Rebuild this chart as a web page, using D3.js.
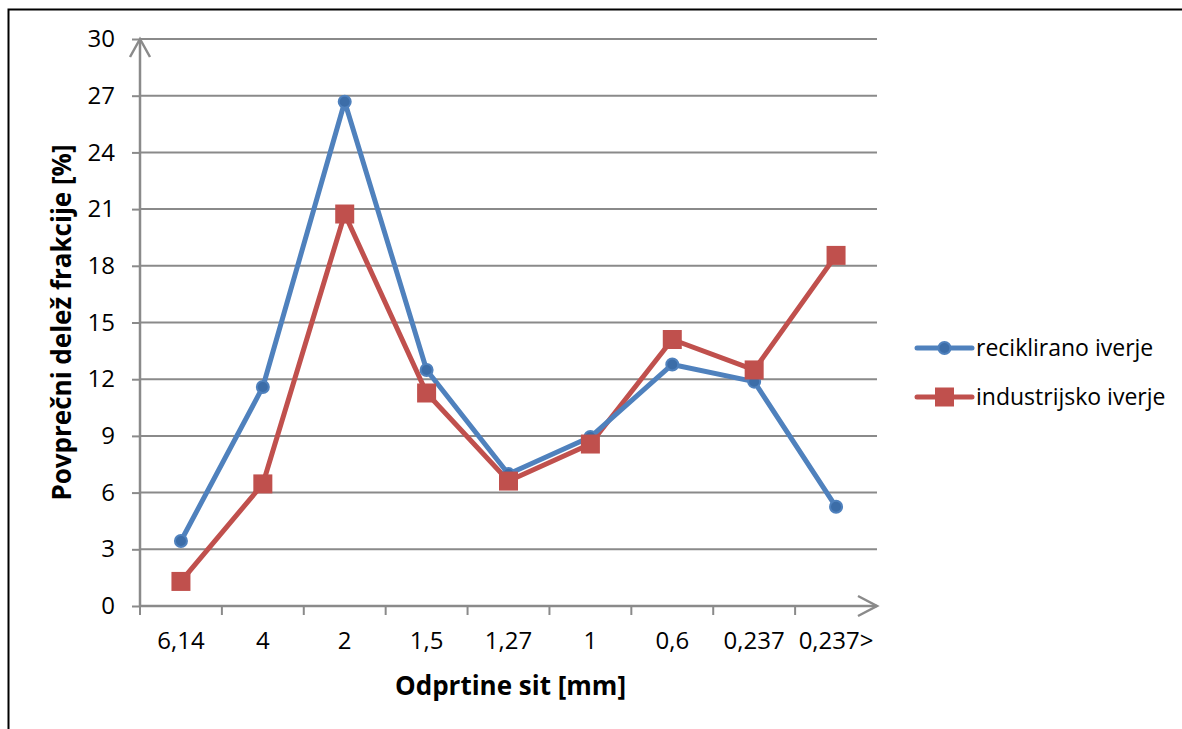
<!DOCTYPE html>
<html>
<head>
<meta charset="utf-8">
<script src="https://cdn.jsdelivr.net/npm/d3@7"></script>
<style>
  html, body { margin: 0; padding: 0; background: #fff; }
  svg { display: block; }
  text { font-family: "Open Sans", "Liberation Sans", sans-serif; fill: #000; }
</style>
</head>
<body>
<svg id="chart" width="1182" height="729"></svg>
<script>
// Sieve openings (mm) and average fraction shares (%)
const categories = ["6,14", "4", "2", "1,5", "1,27", "1", "0,6", "0,237", "0,237>"];
const reciklirano = [3.44, 11.59, 26.68, 12.49, 6.98, 8.94, 12.78, 11.87, 5.25];
const industrijsko = [1.30, 6.46, 20.74, 11.27, 6.61, 8.57, 14.10, 12.49, 18.55];
const yTicks = [0, 3, 6, 9, 12, 15, 18, 21, 24, 27, 30];
const seriesNames = ["reciklirano iverje", "industrijsko iverje"];

const svg = d3.select("#chart");
const grid = "#8a8a8a";
const blue = "#4F81BD", blueDark = "#3C6DA8";
const red = "#C0504D";

// outer frame
svg.append("rect").attr("x", 8.5).attr("y", 9.5).attr("width", 1300).attr("height", 800)
  .attr("fill", "none").attr("stroke", "#000").attr("stroke-width", 2);

const plot = { left: 140, right: 877, top: 39, bottom: 606 };

const x = d3.scaleBand().domain(categories).range([plot.left, plot.right]).padding(0);
const y = d3.scaleLinear().domain([0, 30]).range([plot.bottom, plot.top]);

// horizontal gridlines
svg.append("g").selectAll("line").data(yTicks.filter(d => d > 0)).join("line")
  .attr("x1", plot.left).attr("x2", plot.right)
  .attr("y1", d => y(d)).attr("y2", d => y(d))
  .attr("stroke", grid).attr("stroke-width", 2);

// y axis
const yAxis = svg.append("g").attr("transform", `translate(${plot.left},0)`)
  .call(d3.axisLeft(y).tickValues(yTicks).tickSize(8).tickPadding(17).tickFormat(d3.format("d")));
yAxis.select(".domain").remove();
yAxis.selectAll(".tick line").attr("stroke", grid).attr("stroke-width", 2);
yAxis.selectAll(".tick text").attr("font-size", 24).attr("font-family", "Open Sans").attr("fill", "#000");
svg.append("line").attr("x1", plot.left).attr("x2", plot.left)
  .attr("y1", plot.bottom).attr("y2", plot.top).attr("stroke", grid).attr("stroke-width", 2.5);
svg.append("path")
  .attr("d", `M${plot.left - 10},${plot.top + 18}L${plot.left},${plot.top}L${plot.left + 10},${plot.top + 18}`)
  .attr("fill", "none").attr("stroke", grid).attr("stroke-width", 2.5);

// x axis
const xAxis = svg.append("g").attr("transform", `translate(0,${plot.bottom})`)
  .call(d3.axisBottom(x).tickSize(0).tickPadding(26));
xAxis.select(".domain").remove();
xAxis.selectAll(".tick text").attr("font-size", 24).attr("font-family", "Open Sans").attr("fill", "#000");
svg.append("g").selectAll("line").data(categories.map(c => x(c))).join("line")
  .attr("x1", d => d).attr("x2", d => d).attr("y1", plot.bottom).attr("y2", plot.bottom + 9)
  .attr("stroke", grid).attr("stroke-width", 2);
svg.append("line").attr("x1", plot.left).attr("x2", plot.right)
  .attr("y1", plot.bottom).attr("y2", plot.bottom).attr("stroke", grid).attr("stroke-width", 2.5);
svg.append("path")
  .attr("d", `M${plot.right - 19},${plot.bottom - 10}L${plot.right},${plot.bottom}L${plot.right - 19},${plot.bottom + 10}`)
  .attr("fill", "none").attr("stroke", grid).attr("stroke-width", 2.5);

// axis titles
svg.append("text").attr("x", (plot.left + plot.right) / 2 + 2).attr("y", 695)
  .attr("text-anchor", "middle").attr("font-size", 26).attr("font-weight", "bold")
  .text("Odprtine sit [mm]");
svg.append("text").attr("transform", `translate(71,${(143 + 502) / 2}) rotate(-90)`)
  .attr("text-anchor", "middle").attr("font-size", 26).attr("font-weight", "bold")
  .text("Povprečni delež frakcije [%]");

const cx = c => x(c) + x.bandwidth() / 2;
const line = d3.line().x((d, i) => cx(categories[i])).y(d => y(d));

// industrijsko series
svg.append("path").datum(industrijsko).attr("d", line)
  .attr("fill", "none").attr("stroke", red).attr("stroke-width", 5).attr("stroke-linejoin", "round");
// reciklirano series
svg.append("path").datum(reciklirano).attr("d", line)
  .attr("fill", "none").attr("stroke", blue).attr("stroke-width", 5).attr("stroke-linejoin", "round");

svg.append("g").selectAll("circle").data(reciklirano).join("circle")
  .attr("cx", (d, i) => cx(categories[i])).attr("cy", d => y(d)).attr("r", 6)
  .attr("fill", blueDark).attr("stroke", blue).attr("stroke-width", 2);
svg.append("g").selectAll("rect").data(industrijsko).join("rect")
  .attr("x", (d, i) => cx(categories[i]) - 9.5).attr("y", d => y(d) - 9.5)
  .attr("width", 19).attr("height", 19).attr("fill", red);

// legend
const legend = svg.append("g");
const legendY = [348, 397];
seriesNames.forEach((name, i) => {
  const g = legend.append("g").attr("transform", `translate(917,${legendY[i]})`);
  g.append("line").attr("x1", 0).attr("x2", 55).attr("stroke", i === 0 ? blue : red)
    .attr("stroke-width", 5).attr("stroke-linecap", "round");
  if (i === 0) {
    g.append("circle").attr("cx", 27.5).attr("r", 6).attr("fill", blueDark)
      .attr("stroke", blue).attr("stroke-width", 2);
  } else {
    g.append("rect").attr("x", 18).attr("y", -9.5).attr("width", 19).attr("height", 19).attr("fill", red);
  }
  g.append("text").attr("x", 59).attr("dy", "0.35em").attr("font-size", 23).text(name);
});
</script>
</body>
</html>
